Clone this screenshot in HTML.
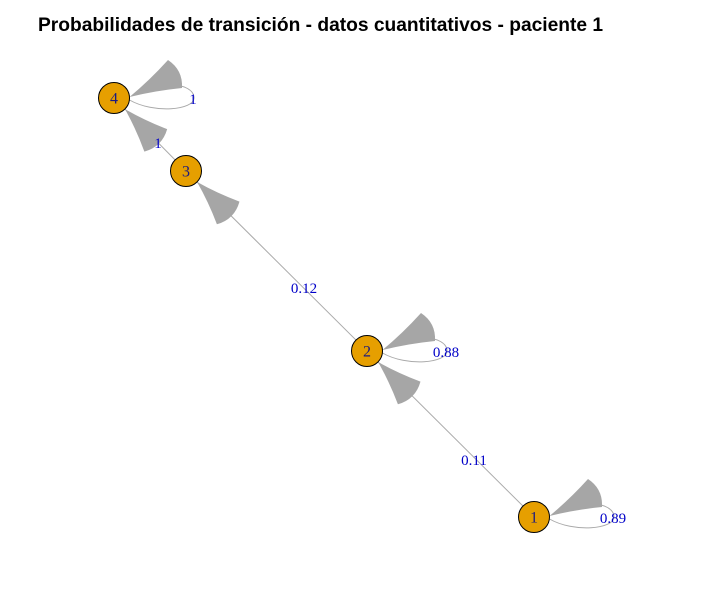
<!DOCTYPE html>
<html><head><meta charset="utf-8"><style>
body{margin:0;background:#fff}
svg{display:block}
</style></head><body>
<svg width="709" height="591" viewBox="0 0 709 591">
<text x="38" y="31" font-family="Liberation Sans, sans-serif" font-weight="bold" font-size="19.2" fill="#000">Probabilidades de transición - datos cuantitativos - paciente 1</text>
<g id="edges"></g><g id="nodes"></g><g id="labels"></g>
</svg>
<script>
const nodeIds=["1","2","3","4"];
const nodeX=[534,367,186,114];
const nodeY=[517,351,171,98];
const edgeFrom=[0,1,1,2,3,0];
const edgeTo=[1,2,1,3,3,0];
const edgeProb=["0.11","0.12","0.88","1","1","0.89"];
const labelPos=[[474,460],[304,288],null,[158,143],null,null];
const NS="http://www.w3.org/2000/svg";
const E=document.getElementById('edges'),N=document.getElementById('nodes'),L=document.getElementById('labels');
function mk(tag,a,p){const e=document.createElementNS(NS,tag);for(const k in a)e.setAttribute(k,a[k]);p.appendChild(e);return e;}
const R=15.5;
function head(T,Ax,Ay,Cx,Cy,ux,uy,px,py){
  const Bx=(Ax+Cx)/2,By=(Ay+Cy)/2;
  const bx=Bx-ux*9,by=By-uy*9;
  const m1x=(T[0]+Ax)/2+px*-2+ux*0,m1y=(T[1]+Ay)/2+py*-2;
  const m2x=(T[0]+Cx)/2-px*-2,m2y=(T[1]+Cy)/2-py*-2;
  return `M${T[0]} ${T[1]} Q${m1x} ${m1y} ${Ax} ${Ay} Q${bx} ${by} ${Cx} ${Cy} Q${m2x} ${m2y} ${T[0]} ${T[1]}Z`;
}
edgeFrom.forEach((f,i)=>{
  const t=edgeTo[i];const sx=nodeX[f],sy=nodeY[f],tx=nodeX[t],ty=nodeY[t];
  let lx,ly;
  if(f===t){
    const loop=mk('path',{d:`M${sx+R} ${sy+2} C${sx+40} ${sy+16} ${sx+80} ${sy+12} ${sx+80} ${sy} C${sx+80} ${sy-8} ${sx+70} ${sy-13} ${sx+58} ${sy-13}`,fill:'none',stroke:'#aaa','stroke-width':1},E);
    
    
    const T=[sx+R,sy-1];
    // direction from base center to tip
    const Bc=[sx+61,sy-24];let ux=T[0]-Bc[0],uy=T[1]-Bc[1];const d=Math.hypot(ux,uy);ux/=d;uy/=d;
    const ah=mk('path',{d:head(T,sx+54,sy-38,sx+68,sy-10,ux,uy,-uy,ux),fill:'#a6a6a6'},E);
    
    
    lx=sx+79;ly=sy+1;
  } else {
    const dx=tx-sx,dy=ty-sy,d=Math.hypot(dx,dy),ux=dx/d,uy=dy/d,px=-uy,py=ux;
    const ln=mk('line',{x1:sx-ux*R,y1:sy-uy*R,x2:tx,y2:ty,stroke:'#aaa','stroke-width':1},E);
    
    
    const Tx=tx-ux*R,Ty=ty-uy*R,Lh=44,W=16;
    const Bx=Tx-ux*Lh,By=Ty-uy*Lh;
    const ah=mk('path',{d:head([Tx,Ty],Bx+px*W,By+py*W,Bx-px*W,By-py*W,ux,uy,px,py),fill:'#a6a6a6'},E);
    
    
    lx=labelPos[i]?labelPos[i][0]:(sx+tx)/2;ly=labelPos[i]?labelPos[i][1]:(sy+ty)/2;
  }
  const tx_=mk('text',{x:lx,y:ly+5,'text-anchor':'middle','font-family':'Liberation Serif, serif','font-size':15,fill:'#0000c8'},L);
  tx_.textContent=edgeProb[i];
  
  
});
nodeIds.forEach((id,i)=>{
  const c=mk('circle',{cx:nodeX[i],cy:nodeY[i],r:R,fill:'#e69f00',stroke:'#000','stroke-width':1},N);
  
  
  const t=mk('text',{x:nodeX[i],y:nodeY[i]+5.5,'text-anchor':'middle','font-family':'Liberation Serif, serif','font-size':16,fill:'#1a1a80'},N);
  t.textContent=id;
  
  
});
</script>
</body></html>
